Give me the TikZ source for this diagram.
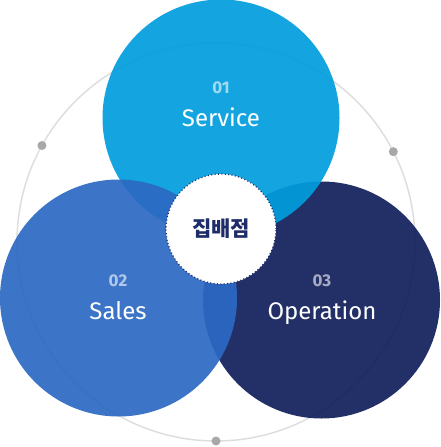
\documentclass[tikz,border=0pt]{standalone}
\usepackage{fontspec}
\setsansfont{Fira Sans}
\newfontfamily\krfont{Noto Sans CJK KR}
\usetikzlibrary{positioning}
\definecolor{svcblue}{HTML}{009DDD}
\definecolor{salblue}{HTML}{2B69C3}
\definecolor{opnavy}{HTML}{101E5B}
\definecolor{hubnavy}{HTML}{1E2D6A}
\definecolor{ringgray}{HTML}{DEDEDE}
\definecolor{dotgray}{HTML}{A8A8A8}

\begin{document}
\begin{tikzpicture}[x=1pt,y=1pt, font=\sffamily,
  bubble/.style={circle,minimum size=237pt,inner sep=0pt,fill opacity=0.92},
  num/.style={text=white,text opacity=0.6,font=\sffamily\bfseries\fontsize{17}{19}\selectfont},
  lbl/.style={text=white,font=\sffamily\fontsize{24}{27}\selectfont},
  pin/.style={circle,fill=dotgray,minimum size=9pt,inner sep=0pt}]
\useasboundingbox (0,0) rectangle (441,-447);
\node[circle,draw=ringgray,line width=1.5pt,minimum size=398pt,inner sep=0pt,outer sep=0pt] (ring) at (216,-242) {};
\node[pin] (p1) at (ring.151.7) {};
\node[pin] (p2) at (ring.27.1) {};
\node[pin] (p3) at (ring.270) {};
\node[bubble,fill=opnavy] (ops) at (321.5,-300) {};
\node[bubble,fill=svcblue] (svc) at (221,-118) {};
\node[bubble,fill=salblue] (sal) at (118.5,-298) {};
\node[circle,fill=white,draw=hubnavy,line width=1.3pt,dash pattern=on 1pt off 2.4pt,
  minimum size=110pt,inner sep=0pt] (hub) at (221,-229) {};
\node[text=hubnavy,font=\krfont\bfseries\fontsize{21}{24}\selectfont] at (hub) {집배점};
\node[num] (n1) at (221,-88) {01};
\node[lbl,below=7pt of n1] {Service};
\node[num] (n2) at (118,-281) {02};
\node[lbl,below=7pt of n2] {Sales};
\node[num] (n3) at (322,-281) {03};
\node[lbl,below=7pt of n3] {Operation};
\end{tikzpicture}
\end{document}
